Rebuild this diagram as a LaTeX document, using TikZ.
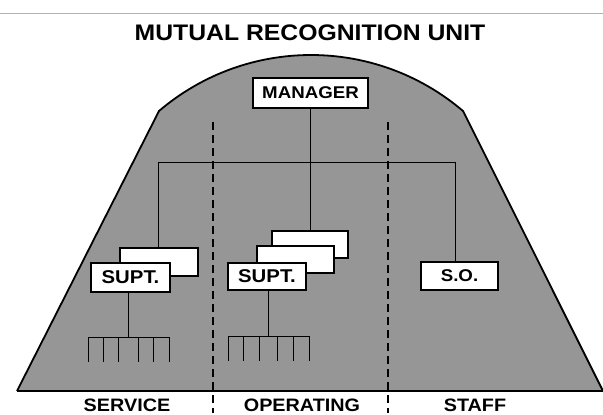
\documentclass[tikz,border=0pt]{standalone}
\usepackage{fontspec}
\setmainfont{Liberation Sans}
\usepackage{graphicx}
\newcommand{\lbl}[2]{{\fontsize{#1}{#1}\selectfont\bfseries\scalebox{1.1}[1]{#2}}}
\definecolor{unitgray}{RGB}{150,150,150}
\tikzset{
  box/.style={draw=black, line width=1.1pt, fill=white, inner sep=0pt},
  conn/.style={line width=0.9pt},
  divider/.style={line width=1.2pt, dash pattern=on 8pt off 5pt},
  outline/.style={line width=1.8pt},
  lab/.style={inner sep=0pt, anchor=center}
}
\begin{document}
\begin{tikzpicture}[x=1pt,y=-1pt]
\useasboundingbox (0,0) rectangle (603,415);
% faint scan line at top
\draw[gray!60, line width=0.6pt] (0,13) -- (603,13);
% title
\node[lab] (title) at (310,33) {\lbl{22.5}{MUTUAL RECOGNITION UNIT}};
% unit shape
\fill[unitgray] (17,391) -- (159,111) arc[start angle=130.45, end angle=49.55, radius=234.3pt] -- (603,391) -- cycle;
\draw[outline] (17,391) -- (159,111) arc[start angle=130.45, end angle=49.55, radius=234.3pt] -- (603,391);
\draw[outline] (17,391) -- (603,391);
% dividers
\coordinate (d1t) at (213,122); \coordinate (d1b) at (213,413);
\coordinate (d2t) at (388,122); \coordinate (d2b) at (388,413);
\draw[divider] (d1t) -- (d1b);
\draw[divider] (d2t) -- (d2b);
% boxes
\node[box, minimum width=115pt, minimum height=30pt] (mgr) at (310.5,93) {\lbl{17}{MANAGER}};
\node[box, minimum width=78pt, minimum height=28pt] (sb) at (159,262) {};
\node[box, minimum width=79pt, minimum height=29pt] (sf) at (130.5,277.5) {\lbl{18.5}{SUPT.}};
\node[box, minimum width=76pt, minimum height=27pt] (ob) at (310,244.5) {};
\node[box, minimum width=77pt, minimum height=27pt] (om) at (295.5,259.5) {};
\node[box, minimum width=78pt, minimum height=27pt] (of) at (267,276.5) {\lbl{18.5}{SUPT.}};
\node[box, minimum width=77pt, minimum height=28pt] (so) at (459.5,276) {\lbl{17}{S.O.}};
% connectors
\coordinate (hl) at (158,162);
\coordinate (hr) at (455,162);
\draw[conn] (mgr.south) -- (mgr.south |- ob.north);
\draw[conn] (hl) -- (hr);
\draw[conn] (hl) -- (hl |- sb.north);
\draw[conn] (hr) -- (hr |- so.north);
% combs
\coordinate (c1) at (128,337);
\draw[conn] (c1 |- sf.south) -- (c1);
\draw[conn] (88,337) -- (169,337);
\foreach \x in {88,103,118,138,153,169} \draw[conn] (\x,337) -- (\x,362);
\coordinate (c2) at (268,336);
\draw[conn] (c2 |- of.south) -- (c2);
\draw[conn] (228,336) -- (309,336);
\foreach \x in {228,243,259,277,293,309} \draw[conn] (\x,336) -- (\x,361);
% bottom labels
\node[lab] (svc) at (127,405) {\lbl{18}{SERVICE}};
\node[lab] (opr) at (302,405) {\lbl{18}{OPERATING}};
\node[lab] (stf) at (475,405) {\lbl{18}{STAFF}};
\end{tikzpicture}
\end{document}
